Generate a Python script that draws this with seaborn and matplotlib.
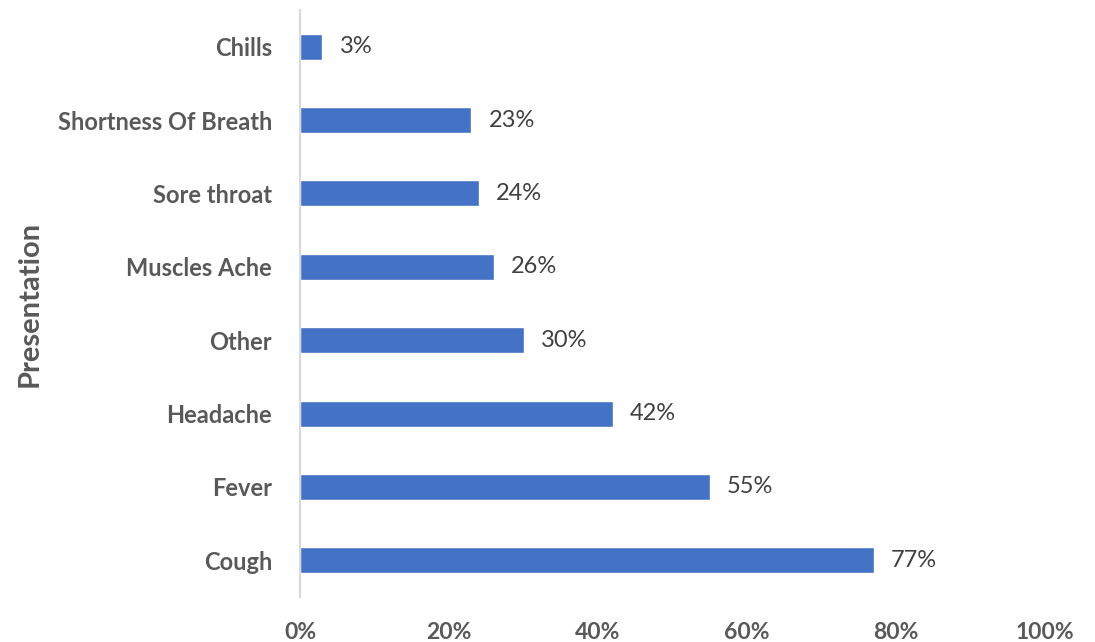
import matplotlib
matplotlib.use("Agg")
import matplotlib.pyplot as plt
import seaborn as sns
import pandas as pd

categories = ["Chills", "Shortness Of Breath", "Sore throat", "Muscles Ache",
              "Other", "Headache", "Fever", "Cough"]
values = [3, 23, 24, 26, 30, 42, 55, 77]
xticks = [0, 20, 40, 60, 80, 100]
xtick_labels = ["0%", "20%", "40%", "60%", "80%", "100%"]

sns.set_theme(style="white")
plt.rcParams['font.family'] = ['Lato', 'DejaVu Sans']

df = pd.DataFrame({"Presentation": categories, "Value": values})

fig = plt.figure(figsize=(10.95, 6.42), dpi=100)
ax = fig.add_axes([300/1095, 1 - 597/642, 745/1095, 587/642])

sns.barplot(data=df, x="Value", y="Presentation", order=categories,
            color="#4472C4", saturation=1, width=0.353, ax=ax)

ax.set_xlim(0, 100)
ax.set_ylim(len(categories) - 0.5, -0.5)
ax.set_xticks(xticks)
ax.set_xticklabels(xtick_labels, fontsize=16.5, fontweight="bold", color="#595959")
ax.tick_params(axis="x", length=0, pad=18)
ax.tick_params(axis="y", length=0, pad=20)
for lab in ax.get_yticklabels():
    lab.set_fontsize(17)
    lab.set_fontweight("bold")
    lab.set_color("#595959")

for i, v in enumerate(values):
    ax.text(v + 2.3, i, f"{v}%", va="center", ha="left", fontsize=17, color="#404040")

for s in ["top", "right", "bottom"]:
    ax.spines[s].set_visible(False)
ax.spines["left"].set_color("#D9D9D9")
ax.spines["left"].set_linewidth(1.5)

ax.set_xlabel("")
ax.set_ylabel("Presentation", fontsize=21, fontweight="bold", color="#595959", labelpad=0)
ax.yaxis.set_label_coords(-(300 - 43) / 745, 0.5)

fig.savefig("out.png", dpi=100)
